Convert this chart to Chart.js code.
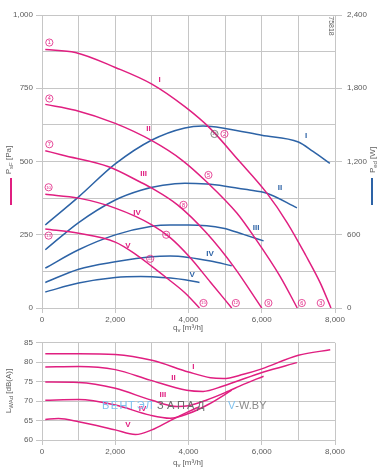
<!DOCTYPE html>
<html>
<head>
<meta charset="utf-8">
<script src="https://cdn.jsdelivr.net/npm/chart.js@4.4.1/dist/chart.umd.min.js"></script>
<style>
html, body { margin: 0; padding: 0; background: #fff; }
#wrap { position: relative; width: 390px; height: 469px; overflow: hidden; }
#top { position: absolute; left: 0; top: 0; }
#bot { position: absolute; left: 0; top: 335px; }
</style>
</head>
<body>
<div id="wrap">
  <canvas id="top" width="390" height="335"></canvas>
  <canvas id="bot" width="390" height="134"></canvas>
</div>
<script>
// static pressure psF [Pa] against airflow qv [m3/h], pairs [qv, psF]
const psI   = [[90,882],[910,872],[2000,821],[3000,764],[3900,687],[4590,613],[5360,505],[6140,392],[6700,290],[7200,180],[7600,85],[7890,0]];
const psII  = [[90,695],[910,675],[2000,630],[3000,571],[3820,505],[4500,430],[5320,324],[5820,238],[6500,108],[6970,0]];
const psIII = [[90,537],[545,522],[1820,482],[2680,430],[3000,409],[3700,352],[4500,255],[5230,142],[6000,0]];
const psIV  = [[90,388],[1000,375],[2000,341],[3000,284],[3500,240],[4000,178],[4600,88],[5180,0]];
const psV   = [[90,270],[1000,255],[2000,225],[2550,184],[3000,142],[3450,98],[3900,52],[4300,0]];

// power input Ped [W], pairs [qv, Ped]
const peI   = [[90,680],[1000,910],[2000,1180],[3000,1376],[3900,1475],[4400,1490],[5000,1471],[6000,1415],[7000,1360],[7400,1283],[7860,1185]];
const peII  = [[90,477],[1000,700],[2000,885],[2700,965],[3300,1005],[3900,1022],[4500,1015],[5000,998],[5600,970],[6140,940],[6960,820]];
const peIII = [[90,327],[1000,477],[2000,599],[3000,670],[3500,680],[4000,680],[4950,654],[5500,603],[6050,550]];
const peIV  = [[90,209],[1000,318],[2000,378],[3000,420],[3500,425],[4000,414],[4600,385],[5180,346]];
const peV   = [[90,131],[1000,204],[2000,250],[2700,258],[3000,255],[3900,231],[4300,209]];

// sound power LWAd [dB(A)], pairs [qv, LWAd]
const lwI   = [[90,82.2],[1000,82.2],[2000,82.0],[3000,80.5],[4000,77.5],[4600,76.0],[4950,75.8],[5500,76.9],[6000,78.3],[7000,81.8],[7870,83.2]];
const lwII  = [[90,78.8],[1000,78.9],[2000,78.1],[2950,75.4],[3950,72.8],[4400,72.5],[4950,73.9],[6050,77.5],[6960,79.9]];
const lwIII = [[90,74.9],[1000,74.8],[2000,73.3],[3000,70.2],[3700,68.6],[4000,68.8],[4500,70.3],[5000,72.2],[5500,74.3],[6050,76.4]];
const lwIV  = [[90,70.2],[1000,70.4],[2000,69.0],[2950,66.4],[3500,65.6],[4000,66.8],[4550,69.2],[5180,72.8]];
const lwV   = [[90,65.3],[450,65.5],[1000,64.7],[2000,62.6],[2550,61.4],[3000,62.6],[3500,65.0],[4000,67.3],[4300,68.6]];

// curve names and operating points, [text, qv, value]
const pinkNames  = [['I',3208,780],['II',2908,611],['III',2772,457],['IV',2592,324],['V',2346,213]];
const blueNames  = [['I',7210,1409],['II',6500,981],['III',5846,656],['IV',4591,444],['V',4100,272]];
const pointNums  = [['1',200,906],['4',200,715],['7',200,559],['10',180,412],['13',180,247],
                    ['2',4981,594],['5',4545,454],['8',3863,352],['11',3391,250],['14',2954,168],
                    ['3',7611,17],['6',7093,17],['9',6182,17],['12',5292,17],['15',4409,17]];
const greyNum    = ['16',4709,594];
const noiseNames = [['I',4136,78.8],['II',3590,75.9],['III',3301,71.5],['IV',2744,67.9],['V',2346,63.8]];

const PINK = '#e01f80';
const BLUE = '#2d63a6';
const GRID = '#c6c6c6';
const TXT  = '#5c5c5c';
const FONT = "'Liberation Sans', Arial, sans-serif";

Chart.defaults.font.family = FONT;
Chart.defaults.font.size = 8;
Chart.defaults.color = TXT;

const fmt = v => v.toLocaleString('en-US');
const toXY = pts => pts.map(p => ({ x: p[0], y: p[1] }));
const curve = (pts, color, axis) => ({
    data: toXY(pts), borderColor: color, borderWidth: 1.5, pointRadius: 0,
    fill: false, cubicInterpolationMode: 'monotone', yAxisID: axis
});
const NONE = 'rgba(0,0,0,0)';

// text with a subscript part, parts = [text, size, dy]
function richText(ctx, parts, cx, cy, angle) {
    ctx.save();
    ctx.translate(cx, cy);
    ctx.rotate(angle);
    let w = 0;
    parts.forEach(p => { ctx.font = p[1] + 'px ' + FONT; w += ctx.measureText(p[0]).width; });
    let x = -w / 2;
    ctx.textAlign = 'left';
    ctx.textBaseline = 'alphabetic';
    ctx.fillStyle = TXT;
    parts.forEach(p => {
        ctx.font = p[1] + 'px ' + FONT;
        ctx.fillText(p[0], x, 3 + p[2]);
        x += ctx.measureText(p[0]).width;
    });
    ctx.restore();
}

function circled(ctx, txt, x, y, col) {
    ctx.beginPath();
    ctx.arc(x, y, 3.6, 0, Math.PI * 2);
    ctx.strokeStyle = col;
    ctx.lineWidth = 0.8;
    ctx.stroke();
    ctx.fillStyle = col;
    ctx.font = (txt.length > 1 ? '4.3px ' : '5.5px ') + FONT;
    ctx.textAlign = 'center';
    ctx.textBaseline = 'middle';
    ctx.fillText(txt, x, y + 0.3);
}

function label(ctx, txt, x, y, col) {
    ctx.fillStyle = col;
    ctx.font = 'bold 8px ' + FONT;
    ctx.textAlign = 'center';
    ctx.textBaseline = 'middle';
    ctx.fillText(txt, x, y);
}

const topDecor = {
    id: 'topDecor',
    afterDatasetsDraw(chart) {
        const ctx = chart.ctx, sx = chart.scales.x, sy = chart.scales.y, sw = chart.scales.y1;
        ctx.save();
        pinkNames.forEach(n => label(ctx, n[0], sx.getPixelForValue(n[1]), sy.getPixelForValue(n[2]), PINK));
        blueNames.forEach(n => label(ctx, n[0], sx.getPixelForValue(n[1]), sw.getPixelForValue(n[2]), BLUE));
        pointNums.forEach(n => circled(ctx, n[0], sx.getPixelForValue(n[1]), sy.getPixelForValue(n[2]), PINK));
        circled(ctx, greyNum[0], sx.getPixelForValue(greyNum[1]), sy.getPixelForValue(greyNum[2]), '#666');

        // drawing number
        ctx.save();
        ctx.translate(331, 26);
        ctx.rotate(Math.PI / 2);
        ctx.font = '7px ' + FONT;
        ctx.fillStyle = TXT;
        ctx.textAlign = 'center';
        ctx.textBaseline = 'middle';
        ctx.fillText('75818', 0, 0);
        ctx.restore();

        // axis titles
        richText(ctx, [['P', 8, 0], ['sF', 6, 2], [' [Pa]', 8, 0]], 8, 160, -Math.PI / 2);
        richText(ctx, [['P', 8, 0], ['ed', 6, 2], [' [W]', 8, 0]], 372, 160, -Math.PI / 2);
        richText(ctx, [['q', 8, 0], ['v', 6, 2], [' [m\u00b3/h]', 8, 0]], 188, 327, 0);
        ctx.fillStyle = PINK;
        ctx.fillRect(10, 178, 2, 27);
        ctx.fillStyle = BLUE;
        ctx.fillRect(371, 178, 2, 27);
        ctx.restore();
    }
};

const botDecor = {
    id: 'botDecor',
    afterDatasetsDraw(chart) {
        const ctx = chart.ctx, sx = chart.scales.x, sy = chart.scales.y;
        ctx.save();
        noiseNames.forEach(n => label(ctx, n[0], sx.getPixelForValue(n[1]), sy.getPixelForValue(n[2]), PINK));

        // watermark
        ctx.font = '11px ' + FONT;
        ctx.textAlign = 'left';
        ctx.textBaseline = 'middle';
        ctx.fillStyle = '#7fc1ee';
        'ВЕНТЭЛ'.split('').forEach((c, i) => ctx.fillText(c, 102 + i * 8.7, 71));
        ctx.fillStyle = '#6a6a6a';
        'ЗАПАД'.split('').forEach((c, i) => ctx.fillText(c, 157 + i * 10, 71));
        ctx.fillStyle = '#7fc1ee';
        ctx.fillText('V', 228, 71);
        const vw = ctx.measureText('V').width;
        ctx.fillStyle = '#8a8a8a';
        ctx.fillText('-W.BY', 228 + vw, 71);

        richText(ctx, [['L', 8, 0], ['WAd', 6, 2], [' [dB(A)]', 8, 0]], 8, 56, -Math.PI / 2);
        richText(ctx, [['q', 8, 0], ['v', 6, 2], [' [m\u00b3/h]', 8, 0]], 188, 127, 0);
        ctx.restore();
    }
};

const xScale = height => ({
    type: 'linear', min: 0, max: 8000,
    ticks: { stepSize: 1000, autoSkip: false, maxRotation: 0, padding: 2,
             callback: v => v % 2000 ? '' : fmt(v) },
    grid: { color: GRID, lineWidth: 1, tickLength: 5,
            tickColor: c => (c.tick && c.tick.value % 2000) ? NONE : GRID },
    border: { color: GRID },
    afterFit: s => { s.height = height; }
});

new Chart(document.getElementById('top'), {
    type: 'line',
    data: {
        datasets: [
            curve(psI, PINK, 'y'), curve(psII, PINK, 'y'), curve(psIII, PINK, 'y'),
            curve(psIV, PINK, 'y'), curve(psV, PINK, 'y'),
            curve(peI, BLUE, 'y1'), curve(peII, BLUE, 'y1'), curve(peIII, BLUE, 'y1'),
            curve(peIV, BLUE, 'y1'), curve(peV, BLUE, 'y1')
        ]
    },
    options: {
        responsive: false, animation: false, devicePixelRatio: 1,
        layout: { padding: { top: 15, left: 0, right: 0, bottom: 0 } },
        plugins: { legend: { display: false }, tooltip: { enabled: false } },
        scales: {
            x: xScale(27),
            y: {
                position: 'left', min: 0, max: 1000,
                ticks: { stepSize: 125, padding: 3, callback: v => v % 250 ? '' : fmt(v) },
                grid: { color: GRID, tickLength: 6,
                        tickColor: c => (c.tick && c.tick.value % 250) ? NONE : GRID },
                border: { color: GRID },
                afterFit: s => { s.width = 42; }
            },
            y1: {
                position: 'right', min: 0, max: 2400,
                ticks: { stepSize: 300, padding: 5, callback: v => v % 600 ? '' : fmt(v) },
                grid: { drawOnChartArea: false, color: GRID, tickLength: 7,
                        tickColor: c => (c.tick && c.tick.value % 600) ? NONE : GRID },
                border: { color: GRID },
                afterFit: s => { s.width = 55; }
            }
        }
    },
    plugins: [topDecor]
});

new Chart(document.getElementById('bot'), {
    type: 'line',
    data: {
        datasets: [
            curve(lwI, PINK, 'y'), curve(lwII, PINK, 'y'), curve(lwIII, PINK, 'y'),
            curve(lwIV, PINK, 'y'), curve(lwV, PINK, 'y')
        ]
    },
    options: {
        responsive: false, animation: false, devicePixelRatio: 1,
        layout: { padding: { top: 7, left: 0, right: 55, bottom: 0 } },
        plugins: { legend: { display: false }, tooltip: { enabled: false } },
        scales: {
            x: xScale(29),
            y: {
                position: 'left', min: 60, max: 85,
                ticks: { stepSize: 5, padding: 3 },
                grid: { color: GRID, tickLength: 6 },
                border: { color: GRID },
                afterFit: s => { s.width = 42; }
            }
        }
    },
    plugins: [botDecor]
});
</script>
</body>
</html>
